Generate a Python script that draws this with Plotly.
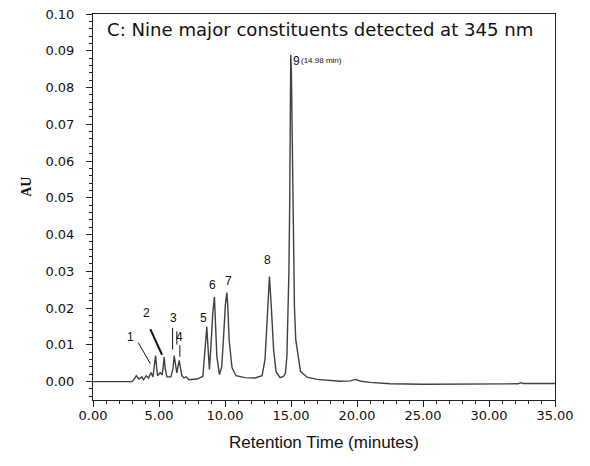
import plotly.graph_objects as go

# Chromatogram trace (retention time in minutes, absorbance in AU)
time_min = [0.00, 2.95, 3.07, 3.28, 3.48, 3.70, 3.83, 4.03, 4.21, 4.39, 4.54, 4.66, 4.74, 4.82,
            4.89, 5.09, 5.24, 5.32, 5.39, 5.47, 5.60, 5.90, 6.06, 6.15, 6.25, 6.35, 6.53, 6.63,
            6.73, 6.90, 7.06, 7.26, 7.87, 8.32, 8.49, 8.62, 8.72, 8.82, 8.95, 9.08, 9.20, 9.30,
            9.38, 9.58, 9.75, 9.88, 10.03, 10.14, 10.22, 10.31, 10.43, 10.53, 10.83, 11.52,
            12.28, 12.81, 13.03, 13.22, 13.37, 13.52, 13.68, 13.87, 14.17, 14.43, 14.58, 14.69,
            14.77, 14.84, 14.90, 14.94, 14.98, 15.03, 15.11, 15.19, 15.26, 15.36, 15.59, 15.72,
            16.22, 16.98, 18.70, 19.50, 19.87, 20.30, 21.00, 22.50, 25.00, 30.00, 32.20, 32.40,
            32.60, 35.00]
absorbance = [0.0000, 0.0000, 0.0004, 0.0016, 0.0007, 0.0013, 0.0005, 0.0016, 0.0010, 0.0025,
              0.0013, 0.0040, 0.0071, 0.0040, 0.0016, 0.0024, 0.0019, 0.0040, 0.0067, 0.0035,
              0.0013, 0.0013, 0.0035, 0.0071, 0.0040, 0.0024, 0.0058, 0.0035, 0.0016, 0.0010,
              0.0013, 0.0005, 0.0007, 0.0014, 0.0096, 0.0149, 0.0090, 0.0033, 0.0106, 0.0190,
              0.0230, 0.0150, 0.0069, 0.0019, 0.0040, 0.0114, 0.0210, 0.0242, 0.0200, 0.0114,
              0.0060, 0.0038, 0.0016, 0.0011, 0.0010, 0.0016, 0.0060, 0.0196, 0.0286, 0.0196,
              0.0087, 0.0027, 0.0011, 0.0014, 0.0024, 0.0069, 0.0160, 0.0296, 0.0476, 0.0748,
              0.0889, 0.0840, 0.0568, 0.0386, 0.0205, 0.0114, 0.0052, 0.0028, 0.0012, 0.0006,
              0.0001, 0.0002, 0.0006, 0.0001, -0.0002, -0.0006, -0.0007, -0.0007, -0.0006,
              -0.0003, -0.0005, -0.0005]

# Peak labels (text, anchor time, anchor AU)
peak_labels = ["1", "2", "3", "4", "5", "6", "7", "8"]
label_time = [2.83, 4.04, 6.11, 6.54, 8.39, 9.07, 10.23, 13.24]
label_au = [0.0122, 0.0186, 0.0173, 0.0122, 0.0173, 0.0262, 0.0275, 0.0332]

# Leader lines (start time, start AU, end time, end AU)
leader_t0 = [3.43, 4.34, 6.03, 6.35, 6.58]
leader_y0 = [0.0106, 0.0143, 0.0146, 0.0137, 0.0099]
leader_t1 = [4.34, 5.23, 6.03, 6.35, 6.58]
leader_y1 = [0.0049, 0.0073, 0.0087, 0.0101, 0.0068]
leader_w = [1, 2, 1, 1, 1]

main_peak_label = "9"
main_peak_rt = "(14.98 min)"
main_peak_time = 15.03
main_peak_au = 0.0873

title_text = "C: Nine major constituents detected at 345 nm"

x_ticks = [0, 5, 10, 15, 20, 25, 30, 35]
y_ticks = [0.00, 0.01, 0.02, 0.03, 0.04, 0.05, 0.06, 0.07, 0.08, 0.09, 0.10]

fig = go.Figure()
fig.add_trace(go.Scatter(x=time_min, y=absorbance, mode="lines",
                         line=dict(color="#404040", width=1.4), hoverinfo="skip",
                         showlegend=False))

tick_font = dict(family="DejaVu Sans", size=13, color="#111111")
label_font = dict(family="Liberation Sans, Arial", size=12, color="#111111")

annotations = []
for txt, t, a in zip(peak_labels, label_time, label_au):
    annotations.append(dict(x=t, y=a, xref="x", yref="y", text=txt, showarrow=False,
                            xanchor="center", yanchor="middle", font=label_font))
annotations.append(dict(x=main_peak_time, y=main_peak_au, xref="x", yref="y",
                        text=main_peak_label, showarrow=False, xanchor="left",
                        yanchor="middle", font=label_font))
annotations.append(dict(x=main_peak_time + 0.6, y=main_peak_au, xref="x", yref="y",
                        text=main_peak_rt, showarrow=False, xanchor="left",
                        yanchor="middle",
                        font=dict(family="Liberation Sans, Arial", size=8, color="#111111")))
annotations.append(dict(x=0.93, y=0.0957, xref="x", yref="y", text=title_text,
                        showarrow=False, xanchor="left", yanchor="middle",
                        font=dict(family="DejaVu Sans", size=18.1, color="#111111")))
annotations.append(dict(x=-0.143, y=0.552, xref="paper", yref="paper", text="<b>AU</b>",
                        showarrow=False, textangle=-90, xanchor="center", yanchor="middle",
                        font=dict(family="Liberation Serif, Times New Roman", size=14,
                                  color="#111111")))

shapes = []
for t0, y0, t1, y1, w in zip(leader_t0, leader_y0, leader_t1, leader_y1, leader_w):
    shapes.append(dict(type="line", xref="x", yref="y", x0=t0, y0=y0, x1=t1, y1=y1,
                       line=dict(color="#111111", width=w)))

# The page body adds an 8 px margin, so the figure is sized and offset to compensate.
fig.update_layout(
    width=582, height=458,
    margin=dict(l=85, r=35, t=6, b=66, autoexpand=False),
    paper_bgcolor="white", plot_bgcolor="white",
    annotations=annotations, shapes=shapes,
    showlegend=False,
)
fig.update_xaxes(
    range=[0, 35], tickvals=x_ticks, tickformat=".2f",
    showgrid=False, zeroline=False,
    showline=True, linecolor="#222222", linewidth=1, mirror=True,
    ticks="outside", ticklen=6, tickcolor="#222222",
    minor=dict(dtick=1, ticks="outside", ticklen=3, tickcolor="#222222"),
    tickfont=tick_font, ticklabelstandoff=-3, ticklabeloverflow="allow",
    title=dict(text="Retention Time (minutes)",
               font=dict(family="Liberation Sans, Arial", size=17, color="#111111"),
               standoff=14),
)
fig.update_yaxes(
    range=[-0.005, 0.10], tickvals=y_ticks, tickformat=".2f",
    showgrid=False, zeroline=False,
    showline=True, linecolor="#222222", linewidth=1, mirror=True,
    ticks="outside", ticklen=6, tickcolor="#222222",
    minor=dict(dtick=0.002, tick0=0, ticks="outside", ticklen=3, tickcolor="#222222"),
    tickfont=tick_font, ticklabelstandoff=9, ticklabeloverflow="allow",
)

fig.write_html("out.html", config={"displayModeBar": False})
